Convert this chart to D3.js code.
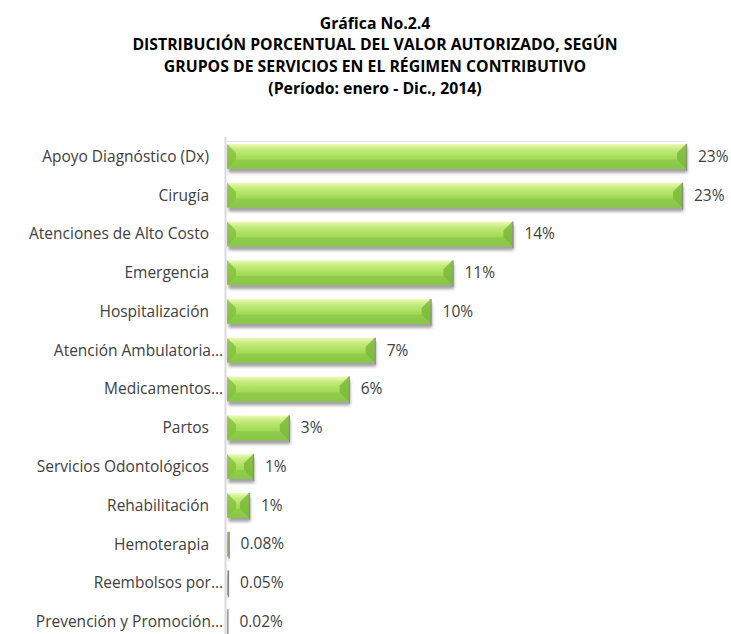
<!DOCTYPE html>
<html>
<head>
<meta charset="utf-8">
<script src="https://cdn.jsdelivr.net/npm/d3@7"></script>
<style>
  body { margin: 0; background: #fff; }
  text { font-family: "Open Sans", sans-serif; }
</style>
</head>
<body>
<div id="chart"></div>
<script>
// chart size
var width = 731;
var height = 634;

// data
var categories = ["Apoyo Diagnóstico (Dx)", "Cirugía", "Atenciones de Alto Costo", "Emergencia",
  "Hospitalización", "Atención Ambulatoria…", "Medicamentos…", "Partos", "Servicios Odontológicos",
  "Rehabilitación", "Hemoterapia", "Reembolsos por…", "Prevención y Promoción…"];
var values = [23.0, 22.8, 14.3, 11.3, 10.2, 7.4, 6.1, 3.1, 1.3, 1.1, 0.08, 0.05, 0.02];
var valueLabels = ["23%", "23%", "14%", "11%", "10%", "7%", "6%", "3%", "1%", "1%", "0.08%", "0.05%", "0.02%"];
var titleLines = ["Gráfica No.2.4",
  "DISTRIBUCIÓN PORCENTUAL DEL VALOR AUTORIZADO, SEGÚN",
  "GRUPOS DE SERVICIOS EN EL RÉGIMEN CONTRIBUTIVO",
  "(Período: enero - Dic., 2014)"];

var svg = d3.select("#chart")
  .append("svg")
  .attr("width", width)
  .attr("height", height);

var defs = svg.append("defs");

// green bar gradient (top highlight to darker bottom)
var grad = defs.append("linearGradient")
  .attr("id", "barGrad")
  .attr("x1", 0).attr("y1", 0).attr("x2", 0).attr("y2", 1);
grad.append("stop").attr("offset", "0%").attr("stop-color", "#eefab8");
grad.append("stop").attr("offset", "22%").attr("stop-color", "#c4ec7c");
grad.append("stop").attr("offset", "55%").attr("stop-color", "#a6dc5a");
grad.append("stop").attr("offset", "100%").attr("stop-color", "#8fc94a");

// soft shadow under the bars
var shadow = defs.append("filter")
  .attr("id", "shadow")
  .attr("x", "-20%").attr("y", "-20%")
  .attr("width", "160%").attr("height", "180%");
shadow.append("feDropShadow")
  .attr("dx", 1.5).attr("dy", 4)
  .attr("stdDeviation", 1.6)
  .attr("flood-color", "#7a7a7a")
  .attr("flood-opacity", 0.7);

// title
svg.append("g")
  .selectAll("text")
  .data(titleLines)
  .enter()
  .append("text")
    .attr("x", 375)
    .attr("y", function(d, i) { return 23 + i * 21.7; })
    .attr("dy", ".35em")
    .attr("text-anchor", "middle")
    .style("font-size", "15.8px")
    .style("font-weight", "bold")
    .style("fill", "#000")
    .text(function(d) { return d; });

// scales
var y = d3.scaleBand()
  .domain(categories)
  .range([137, 641])
  .paddingInner(0.36)
  .paddingOuter(0.18);

var x = d3.scaleLinear()
  .domain([0, 23])
  .range([227, 686]);

// top border line of plot
svg.append("line")
  .attr("x1", x(0)).attr("x2", x(23))
  .attr("y1", 141.5).attr("y2", 141.5)
  .style("stroke", "#e6e6e6")
  .style("stroke-width", 1);

var rows = svg.append("g")
  .selectAll("g")
  .data(values)
  .enter()
  .append("g")
    .attr("transform", function(d, i) { return "translate(0," + y(categories[i]) + ")"; });

var bh = y.bandwidth();

rows.append("rect")
  .attr("x", x(0))
  .attr("y", 0)
  .attr("width", function(d) { return x(d) - x(0); })
  .attr("height", bh)
  .style("fill", "url(#barGrad)")
  .attr("filter", "url(#shadow)");

// bevel facets at the ends of each bar
function bevel(d) {
  var w = x(d) - x(0);
  return Math.min(9, w / 2, bh / 2);
}
rows.append("path")
  .attr("d", function(d) {
    var x0 = x(0), b = bevel(d);
    return "M" + x0 + ",0L" + (x0 + b) + "," + b + "L" + (x0 + b) + "," + (bh - b) + "L" + x0 + "," + bh + "Z";
  })
  .style("fill", "#7fbd3c")
  .style("opacity", 0.75);
rows.append("path")
  .attr("d", function(d) {
    var x1 = x(d), b = bevel(d);
    return "M" + x1 + ",0L" + (x1 - b) + "," + b + "L" + (x1 - b) + "," + (bh - b) + "L" + x1 + "," + bh + "Z";
  })
  .style("fill", "#78b636")
  .style("opacity", 0.8);
rows.append("path")
  .attr("d", function(d) {
    var x0 = x(0), x1 = x(d), b = bevel(d);
    return "M" + x0 + "," + bh + "L" + (x0 + b) + "," + (bh - b) + "L" + (x1 - b) + "," + (bh - b) + "L" + x1 + "," + bh + "Z";
  })
  .style("fill", "#86c444")
  .style("opacity", 0.6);

// gray edge on the right end of each bar
rows.append("line")
  .attr("x1", function(d) { return x(d) + 0.5; })
  .attr("x2", function(d) { return x(d) + 0.5; })
  .attr("y1", 0)
  .attr("y2", bh + 2)
  .style("stroke", "#8a8a8a")
  .style("stroke-width", 1.3);

// value labels
rows.append("text")
  .attr("x", function(d) { return x(d) + 12; })
  .attr("y", bh / 2)
  .attr("dy", ".35em")
  .style("font-size", "15.5px")
  .style("fill", "#404040")
  .text(function(d, i) { return valueLabels[i]; });

// category labels
svg.append("g")
  .selectAll("text")
  .data(categories)
  .enter()
  .append("text")
    .attr("x", function(d) { return d.slice(-1) === "…" ? 223 : 209; })
    .attr("y", function(d) { return y(d) + bh / 2; })
    .attr("dy", ".35em")
    .attr("text-anchor", "end")
    .style("font-size", "15.5px")
    .style("fill", "#404040")
    .text(function(d) { return d; });

// vertical axis line
svg.append("line")
  .attr("x1", 225.5).attr("x2", 225.5)
  .attr("y1", 137).attr("y2", height)
  .style("stroke", "#d9d9d9")
  .style("stroke-width", 2);
</script>
</body>
</html>
